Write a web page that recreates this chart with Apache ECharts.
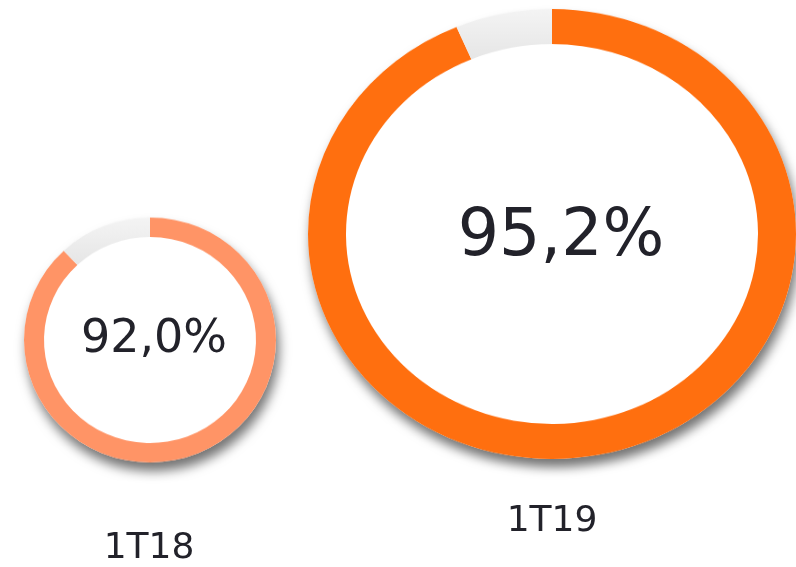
<!DOCTYPE html>
<html>
<head>
<meta charset="utf-8">
<script src="https://cdn.jsdelivr.net/npm/echarts@6/dist/echarts.min.js"></script>
<style>
  html, body { margin: 0; padding: 0; background: #ffffff; }
  #wrap { position: relative; width: 796px; height: 567px; overflow: hidden; }
  .layer { position: absolute; left: 0; top: 0; width: 796px; height: 567px; }
  #ringSmall { transform-origin: 150px 340px; transform: scaleY(0.972); }
  #ringBig { top: -40px; height: 647px; transform-origin: 552px 274px; transform: scaleY(0.922); }
</style>
</head>
<body>
<div id="wrap">
  <div id="ringSmall" class="layer"></div>
  <div id="ringBig" class="layer"></div>
  <div id="texts" class="layer"></div>
</div>
<script>
// ---- data ----
const categories = ['1T18', '1T19'];
const valueLabels = ['92,0%', '95,2%'];
// filled share of each ring as drawn in the picture (percent of the circle)
const arcShares = [88, 93.6];
const ringColors = ['#FF9466', '#FF6F0F'];

function ringOption(idx, center, outerR, innerR) {
  return {
    animation: false,
    series: [
      {
        type: 'pie',
        silent: true,
        center: center,
        radius: [0, outerR],
        z: 1,
        label: { show: false },
        labelLine: { show: false },
        itemStyle: {
          color: '#ffffff',
          shadowBlur: 12,
          shadowColor: 'rgba(0,0,0,0.55)',
          shadowOffsetX: 3,
          shadowOffsetY: 9
        },
        data: [{ value: 1, name: 'disc' }]
      },
      {
        type: 'pie',
        silent: true,
        center: center,
        radius: [innerR, outerR],
        startAngle: 90,
        clockwise: true,
        z: 2,
        label: { show: false },
        labelLine: { show: false },
        itemStyle: { borderWidth: 0 },
        data: [
          { value: arcShares[idx], name: categories[idx], itemStyle: { color: ringColors[idx] } },
          { value: 100 - arcShares[idx], name: 'rest',
            itemStyle: { color: new echarts.graphic.LinearGradient(0, 0, 0, 1, [
              { offset: 0, color: '#F4F4F4' }, { offset: 1, color: '#E6E6E6' }]) } }
        ]
      }
    ]
  };
}

const small = echarts.init(document.getElementById('ringSmall'), null, { renderer: 'canvas' });
small.setOption(ringOption(0, [150, 340], 126, 106));

const big = echarts.init(document.getElementById('ringBig'), null, { renderer: 'canvas' });
big.setOption(ringOption(1, [552, 274], 244, 206));

const texts = echarts.init(document.getElementById('texts'), null, { renderer: 'canvas' });
const fontFam = '"DejaVu Sans", sans-serif';
texts.setOption({
  animation: false,
  backgroundColor: 'transparent',
  graphic: [
    { type: 'text', x: 154, y: 340, style: { text: valueLabels[0], fontSize: 46, fontFamily: fontFam, fill: '#22222A', align: 'center', verticalAlign: 'middle' } },
    { type: 'text', x: 561, y: 238, style: { text: valueLabels[1], fontSize: 65, fontFamily: fontFam, fill: '#22222A', align: 'center', verticalAlign: 'middle' } },
    { type: 'text', x: 149, y: 549, style: { text: categories[0], fontSize: 36, fontFamily: fontFam, fill: '#22222A', align: 'center', verticalAlign: 'middle' } },
    { type: 'text', x: 552, y: 522, style: { text: categories[1], fontSize: 36, fontFamily: fontFam, fill: '#22222A', align: 'center', verticalAlign: 'middle' } }
  ]
});
</script>
</body>
</html>
